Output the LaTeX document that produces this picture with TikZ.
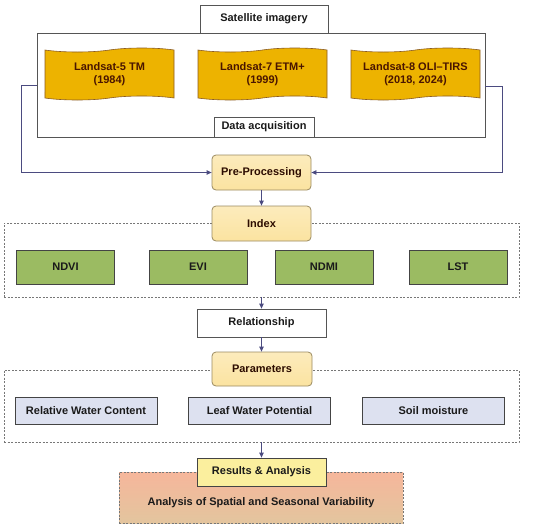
\documentclass[tikz,border=0pt]{standalone}
\usepackage{fontspec}
\setmainfont{Liberation Sans}
\usetikzlibrary{shapes.symbols,arrows.meta}
\definecolor{edge}{HTML}{555555}
\definecolor{arr}{HTML}{4B4B80}
\definecolor{gold}{HTML}{EDB300}
\definecolor{goldb}{HTML}{8A5A20}
\definecolor{paleY}{HTML}{FBE3A0}
\definecolor{paleYb}{HTML}{9A8A60}
\definecolor{idxG}{HTML}{9BBB62}
\definecolor{lav}{HTML}{DDE1F0}
\definecolor{resY}{HTML}{FBEF9E}
\definecolor{salT}{HTML}{F6B69B}
\definecolor{salB}{HTML}{E3C59E}
\definecolor{txt}{HTML}{1A1A1A}
\definecolor{brownT}{HTML}{4A1500}
\tikzset{
  every node/.style={font=\fontsize{11}{13.2}\selectfont\bfseries, text=txt, inner sep=0pt, align=center},
  whitebox/.style={draw=edge, fill=white, line width=0.8pt},
  tapebox/.style={tape, tape bend top=in and out, tape bend bottom=in and out, tape bend height=4pt,
     draw=goldb, fill=gold, line width=0.6pt, minimum width=129pt, minimum height=52pt, text=brownT},
  yellowbox/.style={draw=paleYb, top color=paleY!70!white, bottom color=paleY, rounded corners=4pt, line width=0.8pt,
     minimum width=99pt, minimum height=35pt, text=brownT!60!black},
  dashbox/.style={draw=edge!80, dash pattern=on 2pt off 1.5pt, line width=0.7pt},
  idxbox/.style={draw=edge!80!black, fill=idxG, line width=0.8pt, minimum width=98pt, minimum height=34pt},
  parbox/.style={draw=edge!80!black, fill=lav, line width=0.8pt, minimum width=142pt, minimum height=27pt},
  conn/.style={draw=arr, line width=0.8pt, -{Triangle[length=5pt,width=4.5pt]}},
}
\begin{document}
\begin{tikzpicture}[x=1pt,y=-1pt]
\useasboundingbox (0,0) rectangle (550,528);
% acquisition frame
\node[draw=edge, line width=0.8pt, minimum width=448pt, minimum height=104pt] (frame) at (261,85) {};
\node[whitebox, minimum width=128pt, minimum height=28pt] (sat) at (264,19) {Satellite imagery};
\node[whitebox, minimum width=100pt, minimum height=20pt] (acq) at (264,127) {Data acquisition};
\node[tapebox] (l5) at (109.5,74) {Landsat-5 TM\\(1984)};
\node[tapebox] (l7) at (262.5,74) {Landsat-7 ETM+\\(1999)};
\node[tapebox] (l8) at (415.5,74) {Landsat-8 OLI--TIRS\\(2018, 2024)};
% pre-processing
\node[yellowbox] (pre) at (261.5,172.5) {Pre-Processing};
\coordinate (lt) at (21,85);
\coordinate (lb) at (21,172.5);
\coordinate (rt) at (502,86);
\coordinate (rb) at (502,172.5);
\draw[conn] (frame.west |- lt) -- (lt) -- (lb) -- (pre.west);
\draw[conn] (frame.east |- rt) -- (rt) -- (rb) -- (pre.east);
% index
\node[dashbox, minimum width=515pt, minimum height=74pt] (idxframe) at (261.5,260) {};
\node[yellowbox] (idx) at (261.5,223.5) {Index};
\draw[conn] (pre.south) -- (idx.north);
\node[idxbox] (ndvi) at (65.5,267) {NDVI};
\node[idxbox] (evi) at (198,267) {EVI};
\node[idxbox] (ndmi) at (324,267) {NDMI};
\node[idxbox] (lst) at (458,267) {LST};
% relationship
\node[whitebox, minimum width=129pt, minimum height=28pt] (rel) at (261.5,323) {Relationship};
\draw[conn] (idxframe.south -| rel.north) -- (rel.north);
% parameters
\node[dashbox, minimum width=515pt, minimum height=72pt] (parframe) at (261.5,406) {};
\node[yellowbox, minimum width=100pt, minimum height=34pt] (par) at (262,369) {Parameters};
\draw[conn] (rel.south) -- (par.north -| rel.south);
\node[parbox] (rwc) at (86,410.5) {Relative Water Content};
\node[parbox] (lwp) at (259.5,410.5) {Leaf Water Potential};
\node[parbox] (sm) at (433.5,410.5) {Soil moisture};
% results
\node[dashbox, top color=salT, bottom color=salB, minimum width=284pt, minimum height=51pt] (resframe) at (261,497.5) {};
\node[draw=edge!80!black, fill=resY, line width=0.8pt, minimum width=129pt, minimum height=28pt] (res) at (261.5,472) {Results \& Analysis};
\node (anal) at (261,503) {Analysis of Spatial and Seasonal Variability};
\draw[conn] (parframe.south -| res.north) -- (res.north);
\end{tikzpicture}
\end{document}
